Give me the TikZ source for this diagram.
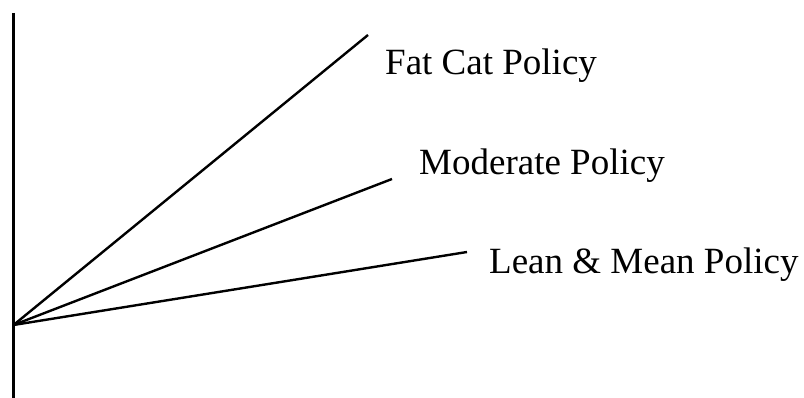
\documentclass[tikz,border=0pt]{standalone}
\usepackage{fontspec}
\setmainfont{Liberation Serif}
\begin{document}
\begin{tikzpicture}[x=1pt,y=1pt,
  axisline/.style={line width=3pt},
  policyline/.style={line width=2.4pt},
  lbl/.style={anchor=base west,inner sep=0pt,font=\fontsize{37}{40}\selectfont}]
\useasboundingbox (0,0) rectangle (804,398);
\coordinate (top) at (13.5,385);
\coordinate (bot) at (13.5,0);
\coordinate (o) at (13.5,73);
\coordinate (fc) at (368,363);
\coordinate (md) at (392,219);
\coordinate (lm) at (467,146);
\draw[axisline] (top) -- (bot);
\draw[policyline] (o) -- (fc);
\draw[policyline] (o) -- (md);
\draw[policyline] (o) -- (lm);
\node[lbl] (tfc) at (385,323) {Fat Cat Policy};
\node[lbl] (tmd) at (419,223) {Moderate Policy};
\node[lbl] (tlm) at (489,124) {Lean \& Mean Policy};
\end{tikzpicture}
\end{document}
